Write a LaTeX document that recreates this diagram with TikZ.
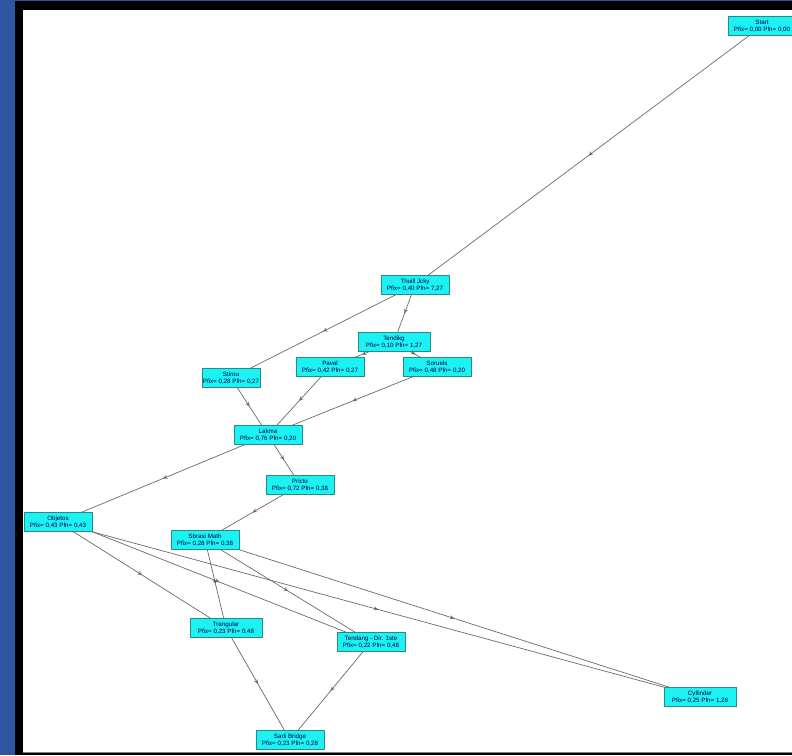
\documentclass[tikz,border=0pt]{standalone}
\usepackage{fontspec}
\setmainfont{Liberation Sans}
\usetikzlibrary{decorations.markings,arrows.meta}
\definecolor{stripblue}{HTML}{2E55A0}
\definecolor{boxcyan}{HTML}{1CF2F2}
\definecolor{boxline}{HTML}{2A8A8A}
\definecolor{edgegray}{HTML}{6A6A6A}
\begin{document}
\begin{tikzpicture}[x=1pt,y=-1pt,
  box/.style={draw=boxline, line width=0.5pt, fill=boxcyan, minimum width=68pt, minimum height=19pt,
    inner sep=0.5pt, align=center, font=\fontsize{6.2}{6.8}\selectfont, text=blue!30!black},
  conn/.style={draw=edgegray, line width=0.7pt, postaction={decorate},
    decoration={markings, mark=at position 0.5 with {\arrow{Stealth[length=4.5pt,width=4pt,open]}}}}]
\useasboundingbox (0,0) rectangle (792,755);
\fill[stripblue] (0,0) rectangle (15,755);
\fill[black] (15,0) rectangle (792,755);
\fill[stripblue] (15,0) rectangle (792,1);
\fill[white] (23,10) rectangle (792,752);
\draw[gray] (23,752) -- (792,752);

\node[box] (start) at (762,26) {Start\\Pfix= 0,00 Pfn= 0,00};
\node[box] (thu) at (415,285) {Thuill Jcky\\Pfix= 0,40 Pfn= 7,27};
\node[box, minimum width=72pt] (ten) at (394,342) {Tendikg\\Pfix= 0,10 Pfn= 1,27};
\node[box, minimum width=58pt] (sti) at (231,378) {Stirou\\Pfix= 0,28 Pfn= 0,27};
\node[box] (pav) at (330,367) {Paval\\Pfix= 0,42 Pfn= 0,27};
\node[box] (sor) at (437,367) {Soruels\\Pfix= 0,48 Pfn= 0,20};
\node[box] (lak) at (268,435) {Lakma\\Pfix= 0,76 Pfn= 0,20};
\node[box] (pri) at (300,485) {Pricto\\Pfix= 0,72 Pfn= 0,38};
\node[box] (obj) at (58,522) {Objetos\\Pfix= 0,43 Pfn= 0,43};
\node[box] (sbr) at (205,540) {Sbrasi Math\\Pfix= 0,28 Pfn= 0,38};
\node[box, minimum width=72pt] (tri) at (226,628) {Trangular\\Pfix= 0,23 Pfn= 0,48};
\node[box] (tdd) at (371,642) {Tendang - Dir. 1ste\\Pfix= 0,22 Pfn= 0,48};
\node[box] (sar) at (290,740) {Sarli Bridge\\Pfix= 0,23 Pfn= 0,28};
\node[box, minimum width=72pt] (cyl) at (700,697) {Cyllinder\\Pfix= 0,25 Pfn= 1,28};

\draw[conn] (start) -- (thu);
\draw[conn] (thu) -- (sti);
\draw[conn] (thu) -- (ten);
\draw[conn] (ten) -- (pav);
\draw[conn] (ten) -- (sor);
\draw[conn] (sti) -- (lak);
\draw[conn] (pav) -- (lak);
\draw[conn] (sor) -- (lak);
\draw[conn] (lak) -- (obj);
\draw[conn] (lak) -- (pri);
\draw[conn] (pri) -- (sbr);
\draw[conn] (obj) -- (tri);
\draw[conn] (obj.south east) -- (tdd);
\draw[conn] (obj.south east) -- (cyl);
\draw[conn] (sbr) -- (tri);
\draw[conn] (sbr) -- (tdd);
\draw[conn] (sbr.south east) -- (cyl);
\draw[conn] (tri) -- (sar);
\draw[conn] (tdd) -- (sar);
\end{tikzpicture}
\end{document}
